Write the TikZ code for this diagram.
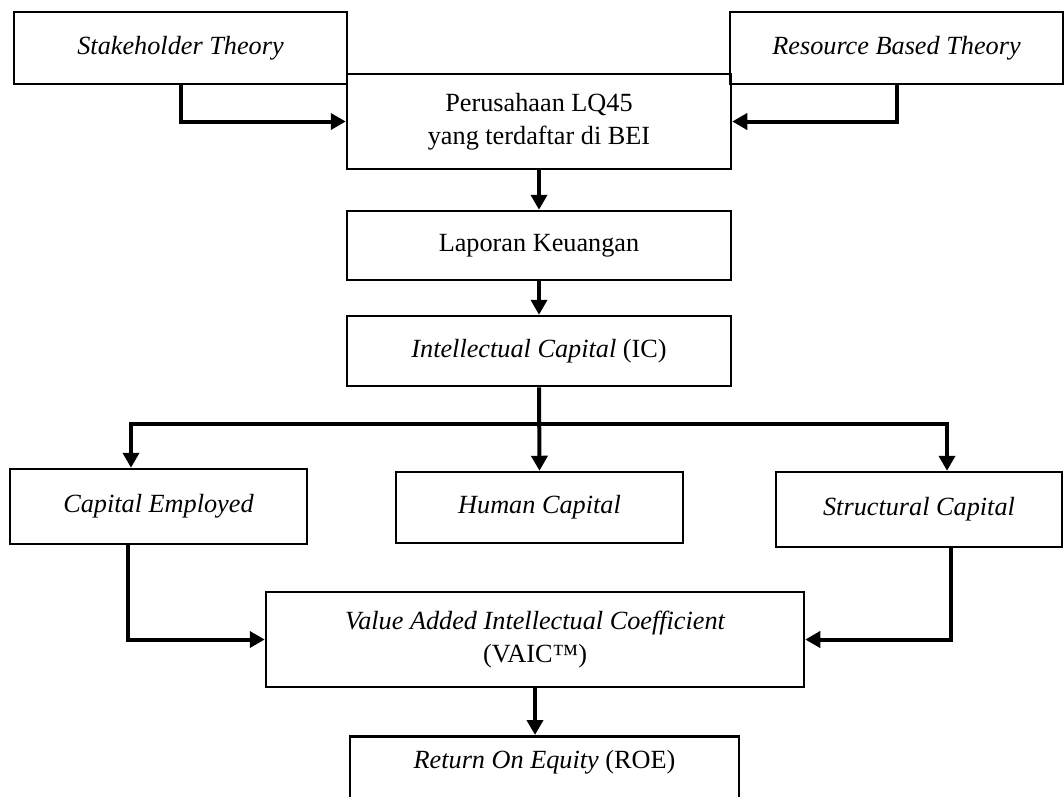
\documentclass[tikz,border=0pt]{standalone}
\usepackage{fontspec}
\setmainfont{Liberation Serif}
\usetikzlibrary{arrows.meta}

\begin{document}
\begin{tikzpicture}[
			x=0.4pt, y=-0.4pt,
			box/.style={draw, line width=1pt, inner sep=0pt, align=center, font=\fontsize{10.5}{13.2}\selectfont},
			arrow/.style={draw, line width=1.6pt, -{Triangle[length=6pt,width=6.4pt]}}
			]
			\useasboundingbox (0,0) rectangle (1064,796);
			\clip (0,0) rectangle (1064,796);
			% teori
			\node[box, minimum width=133.2pt, minimum height=28.8pt] (stakeholder) at (180.5,48) {\itshape Stakeholder Theory};
			\node[box, minimum width=133.2pt, minimum height=28.8pt] (resource) at (896.5,48) {\itshape Resource Based Theory};
			% alur utama
			\node[box, minimum width=153.6pt, minimum height=38pt] (lq) at (539,121.5) {Perusahaan LQ45\\yang terdaftar di BEI};
			\node[box, minimum width=153.6pt, minimum height=27.6pt] (lapkeu) at (539,245.5) {Laporan Keuangan};
			\node[box, minimum width=153.6pt, minimum height=28pt] (ic) at (539,351) {{\itshape Intellectual Capital} (IC)};
			% komponen IC
			\node[box, minimum width=118.8pt, minimum height=30pt] (ce) at (158.5,506.5) {\itshape Capital Employed};
			\node[box, minimum width=114.8pt, minimum height=28.4pt] (hc) at (539.5,507.5) {\itshape Human Capital};
			\node[box, minimum width=114.4pt, minimum height=30pt] (sc) at (919,509.5) {\itshape Structural Capital};
			\node[box, minimum width=215.2pt, minimum height=38pt] (vaic) at (535,639.5) {\itshape Value Added Intellectual Coefficient\\(VAIC™)};
			\node[box, minimum width=155.6pt, minimum height=32pt, anchor=north] (roe) at (544.5,735) {{\itshape Return On Equity} (ROE)\\~};
			\coordinate (split) at (539,424);

			\draw[arrow] (stakeholder.south) |- (lq.west);
			\draw[arrow] (resource.south) |- (lq.east);
			\draw[arrow] (lq) -- (lapkeu);
			\draw[arrow] (lapkeu) -- (ic);
			\draw[arrow] (ic.south) -- (hc.north);
			\draw[arrow] (split) -| ([xshift=-11pt]ce.north);
			\draw[arrow] (split) -| ([xshift=11.2pt]sc.north);
			\draw[arrow] ([xshift=-12.2pt]ce.south) |- (vaic.west);
			\draw[arrow] ([xshift=12.8pt]sc.south) |- (vaic.east);
			\draw[arrow] (vaic.south) -- (vaic.south |- roe.north);
\end{tikzpicture}
\end{document}
